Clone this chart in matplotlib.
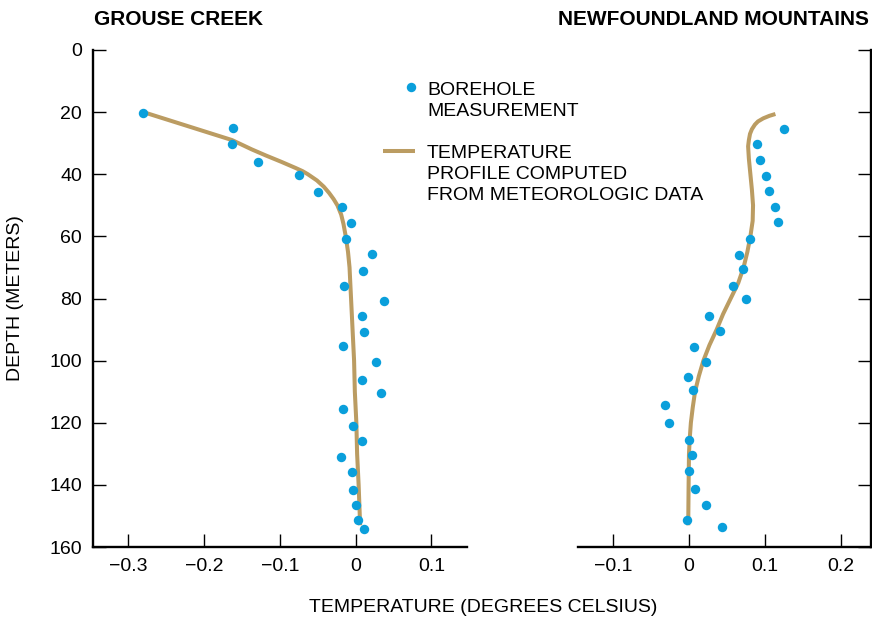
import matplotlib
matplotlib.use("Agg")
import matplotlib.pyplot as plt
from matplotlib.lines import Line2D

plt.rcParams['font.family'] = ['Liberation Sans', 'DejaVu Sans']

dot_color = '#0a9fdb'
line_color = '#bb9c62'

# Grouse Creek borehole measurements
gc_depth = [20.2, 25.2, 30.2, 35.9, 40.2, 45.8, 50.6, 55.6, 61.0, 65.7, 71.0, 76.0, 80.9, 85.5,
            90.9, 95.3, 100.6, 106.1, 110.4, 115.7, 121.1, 125.8, 131.0, 135.9, 141.5, 146.6,
            151.2, 154.3]
gc_temp = [-0.280, -0.162, -0.163, -0.129, -0.075, -0.050, -0.018, -0.006, -0.013, 0.021, 0.010,
           -0.015, 0.038, 0.009, 0.011, -0.017, 0.027, 0.008, 0.033, -0.017, -0.004, 0.009,
           -0.019, -0.005, -0.004, 0.000, 0.003, 0.011]

# Grouse Creek computed profile
gc_prof_depth = [20, 23, 26, 29, 32, 34, 36, 38, 39, 40, 41, 42, 44, 46, 48, 50, 53, 56, 60, 65,
                 70, 80, 90, 100, 110, 120, 130, 140, 153]
gc_prof_temp = [-0.280, -0.241, -0.202, -0.163, -0.137, -0.118, -0.098, -0.079, -0.070, -0.063,
                -0.057, -0.051, -0.042, -0.035, -0.029, -0.024, -0.019, -0.016, -0.013, -0.010,
                -0.008, -0.006, -0.004, -0.002, -0.001, 0.001, 0.002, 0.004, 0.006]

# Newfoundland Mountains borehole measurements
nm_depth = [25.3, 30.2, 35.5, 40.6, 45.3, 50.4, 55.3, 61.0, 66.0, 70.5, 75.9, 80.0, 85.5, 90.6,
            95.5, 100.4, 105.4, 109.6, 114.4, 120.2, 125.4, 130.4, 135.4, 141.4, 146.6, 151.2,
            153.7]
nm_temp = [0.125, 0.090, 0.094, 0.101, 0.106, 0.114, 0.117, 0.081, 0.066, 0.071, 0.058, 0.075,
           0.027, 0.041, 0.006, 0.022, -0.001, 0.005, -0.031, -0.026, 0.000, 0.004, 0.000,
           0.008, 0.023, -0.003, 0.043]

# Newfoundland Mountains computed profile
nm_prof_depth = [20.6, 21.2, 22, 23, 24, 25.5, 27, 29, 31, 35, 40, 45, 50, 55, 60, 65, 70, 75,
                 80, 85, 90, 95, 100, 105, 110, 115, 120, 125, 130, 140, 153]
nm_prof_temp = [0.114, 0.106, 0.098, 0.091, 0.087, 0.083, 0.0805, 0.079, 0.078, 0.079, 0.081,
                0.083, 0.0845, 0.084, 0.081, 0.077, 0.072, 0.065, 0.055, 0.045, 0.0365, 0.027,
                0.019, 0.013, 0.008, 0.005, 0.0025, 0.001, 0.0, -0.0005, -0.001]

W, H = 872, 620
fig = plt.figure(figsize=(W / 100, H / 100), dpi=100)


def fx(x):
    return x / W


def fy(y):
    return 1 - y / H


ax1 = fig.add_axes([fx(93), fy(547), fx(467 - 93), (547 - 50) / H])
ax2 = fig.add_axes([fx(578), fy(547), fx(871 - 578), (547 - 50) / H])

for ax in (ax1, ax2):
    ax.set_ylim(160, 0)
    ax.set_yticks(range(0, 161, 20))
    ax.spines['top'].set_visible(False)
    for s in ax.spines.values():
        s.set_linewidth(1.7)
    ax.tick_params(direction='in', length=9.5, width=1.0, labelsize=14, pad=8)

ax1.plot(gc_prof_temp, gc_prof_depth, color=line_color, lw=2.9, solid_capstyle='butt', zorder=2)
ax1.plot(gc_temp, gc_depth, ls='', marker='o', ms=6.8, color=dot_color, mec='none', zorder=3)
ax1.set_xlim(-0.3465, 0.147)
ax1.set_xticks([-0.3, -0.2, -0.1, 0, 0.1])
ax1.set_xticklabels(['\u22120.3', '\u22120.2', '\u22120.1', '0', '0.1'])
ax1.spines['right'].set_visible(False)

ax2.plot(nm_prof_temp, nm_prof_depth, color=line_color, lw=2.9, solid_capstyle='butt', zorder=2)
ax2.plot(nm_temp, nm_depth, ls='', marker='o', ms=6.8, color=dot_color, mec='none', zorder=3)
ax2.set_xlim(-0.1464, 0.2401)
ax2.set_xticks([-0.1, 0, 0.1, 0.2])
ax2.set_xticklabels(['\u22120.1', '0', '0.1', '0.2'])
ax2.spines['left'].set_visible(False)
ax2.yaxis.tick_right()
ax2.tick_params(axis='y', labelright=False)

# titles and axis labels
fig.text(fx(94), fy(25), 'GROUSE CREEK', fontsize=15, fontweight='bold', ha='left', va='baseline')
fig.text(fx(869), fy(25), 'NEWFOUNDLAND MOUNTAINS', fontsize=15, fontweight='bold',
         ha='right', va='baseline')
fig.text(fx(15), fy(298.5), 'DEPTH (METERS)', fontsize=14, rotation=90, ha='center', va='center')
fig.text(fx(483), fy(607), 'TEMPERATURE (DEGREES CELSIUS)', fontsize=14, ha='center', va='center')

# legend (multi-line labels: baseline refers to the last line)
fig.add_artist(Line2D([fx(410.5)], [fy(87)], ls='', marker='o', ms=6.8, color=dot_color,
                      mec='none', transform=fig.transFigure))
fig.add_artist(Line2D([fx(383), fx(415)], [fy(151), fy(151)], color=line_color, lw=2.9,
                      solid_capstyle='butt', transform=fig.transFigure))
fig.text(fx(427), fy(116), 'BOREHOLE\nMEASUREMENT', fontsize=14, ha='left', va='baseline',
         linespacing=1.3)
fig.text(fx(427), fy(200), 'TEMPERATURE\nPROFILE COMPUTED\nFROM METEOROLOGIC DATA',
         fontsize=14, ha='left', va='baseline', linespacing=1.3)

fig.savefig('out.png', dpi=100)
